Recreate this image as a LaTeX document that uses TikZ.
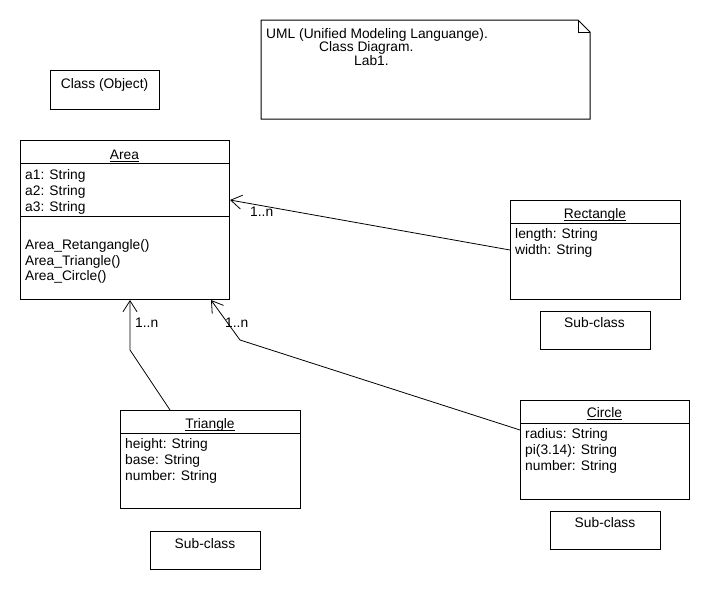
\documentclass[tikz,border=0pt]{standalone}
\usepackage{fontspec}
\setmainfont{Liberation Sans}
\usetikzlibrary{arrows.meta}
\begin{document}
\begin{tikzpicture}[x=1pt,y=-1pt,
  box/.style={draw,line width=1pt,inner sep=0pt,anchor=north west},
  subbox/.style={draw,line width=1.3pt,inner sep=0pt,anchor=north west,minimum width=110pt,minimum height=38pt},
  divline/.style={line width=1pt},
  uline/.style={line width=0.8pt},
  txt/.style={inner sep=0pt,anchor=base west,font=\fontsize{13.8}{15.5}\selectfont},
  ctxt/.style={inner sep=0pt,anchor=base,font=\fontsize{13.8}{15.5}\selectfont},
  assoc/.style={line width=0.8pt,-{Straight Barb[length=11pt,width=14pt,line width=0.8pt]}},
]
\useasboundingbox[fill=white] (0,0) rectangle (710,590);

% note
\coordinate (nA) at (261,20);
\draw[line width=1pt] (nA) -- (578,20) -- (590,32) -- (590,119) -- (261,119) -- cycle;
\draw[line width=1pt] (578,20) -- (578,32) -- (590,32);
\node[txt] (n1) at (266,38.5) {UML (Unified Modeling Languange).};
\node[txt] (n2) at (319,51.5) {Class Diagram.};
\node[txt] (n3) at (354,65) {Lab1.};

% class (object)
\node[box,minimum width=109pt,minimum height=39pt] (cobj) at (50,70) {};
\node[ctxt] (cobjt) at (104.5,88.5) {Class (Object)};

% Area
\node[box,minimum width=209pt,minimum height=159pt] (area) at (20,140) {};
\draw[divline] ([yshift=-23pt]area.north west) -- ([yshift=-23pt]area.north east);
\draw[divline] ([yshift=-76pt]area.north west) -- ([yshift=-76pt]area.north east);
\node[ctxt] (areah) at (124.5,159.5) {Area};
\draw[uline] ([yshift=-2.2pt]areah.base west) -- ([yshift=-2.2pt]areah.base east);
\node[txt] (a1) at (25,179.5) {a1: String};
\node[txt] (a2) at (25,195) {a2: String};
\node[txt] (a3) at (25,211) {a3: String};
\node[txt] (m1) at (25,249.5) {Area\_Retangangle()};
\node[txt] (m2) at (25,265) {Area\_Triangle()};
\node[txt] (m3) at (25,280.5) {Area\_Circle()};

% Rectangle
\node[box,minimum width=170pt,minimum height=99pt] (rect) at (510,200) {};
\draw[divline] ([yshift=-23pt]rect.north west) -- ([yshift=-23pt]rect.north east);
\node[ctxt] (recth) at (595,218.5) {Rectangle};
\draw[uline] ([yshift=-2.2pt]recth.base west) -- ([yshift=-2.2pt]recth.base east);
\node[txt] (r1) at (515,238.5) {length: String};
\node[txt] (r2) at (515,254.5) {width: String};
\node[subbox] (rsub) at (540,311) {};
\node[ctxt] (rsubt) at (594.5,327.5) {Sub-class};

% Triangle
\node[box,minimum width=180pt,minimum height=98pt] (tri) at (120,410) {};
\draw[divline] ([yshift=-23pt]tri.north west) -- ([yshift=-23pt]tri.north east);
\node[ctxt] (trih) at (210,428) {Triangle};
\draw[uline] ([yshift=-2.2pt]trih.base west) -- ([yshift=-2.2pt]trih.base east);
\node[txt] (t1) at (125,448.5) {height: String};
\node[txt] (t2) at (125,464.5) {base: String};
\node[txt] (t3) at (125,480.5) {number: String};
\node[subbox] (tsub) at (150,531) {};
\node[ctxt] (tsubt) at (205,548.5) {Sub-class};

% Circle
\node[box,minimum width=169pt,minimum height=99pt] (circ) at (520,400) {};
\draw[divline] ([yshift=-23pt]circ.north west) -- ([yshift=-23pt]circ.north east);
\node[ctxt] (circh) at (604.5,417.5) {Circle};
\draw[uline] ([yshift=-2.2pt]circh.base west) -- ([yshift=-2.2pt]circh.base east);
\node[txt] (c1) at (525,438.5) {radius: String};
\node[txt] (c2) at (525,454.5) {pi(3.14): String};
\node[txt] (c3) at (525,470.5) {number: String};
\node[subbox] (csub) at (550,511) {};
\node[ctxt] (csubt) at (605,527.5) {Sub-class};

% connectors
\coordinate (tb) at (130,350);
\coordinate (cb) at (240,340);
\draw[assoc] ([yshift=-50pt]rect.north west) -- ([yshift=-60pt]area.north east);
\draw[assoc] ([xshift=50pt]tri.north west) -- (tb) -- ([xshift=110pt]area.south west);
\draw[assoc] ([yshift=-30pt]circ.north west) -- (cb) -- ([xshift=-19pt]area.south east);

\node[txt] (l1) at (250,216.5) {1..n};
\node[txt] (l2) at (135,327.5) {1..n};
\node[txt] (l3) at (225,327.5) {1..n};
\end{tikzpicture}
\end{document}
